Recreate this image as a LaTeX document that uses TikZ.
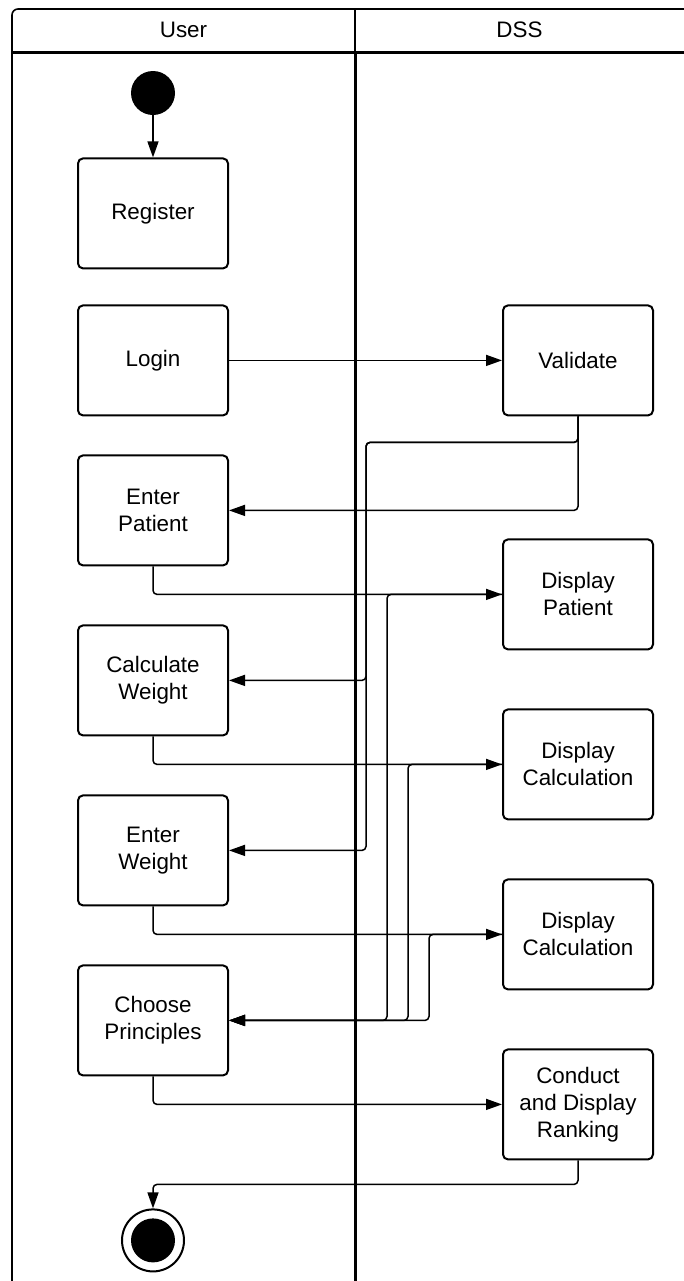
\documentclass[tikz,border=0pt]{standalone}
\usepackage{fontspec}
\setmainfont{Liberation Sans}
\usetikzlibrary{positioning}
\usetikzlibrary{arrows.meta}

\begin{document}
\begin{tikzpicture}[
x=0.5pt, y=-0.5pt,
font=\fontsize{11.2}{13.5}\selectfont,
actnode/.style={rectangle, rounded corners=2.5pt, draw=black, fill=white, line width=1pt, minimum width=75pt, minimum height=55pt, align=center},
startnode/.style={circle, fill=black, minimum size=22pt, inner sep=0pt},
endnode/.style={circle, draw=black, fill=white, line width=1pt, minimum size=31pt, inner sep=0pt, path picture={\fill[black] (path picture bounding box.center) circle (11pt);}},
conn/.style={line width=0.75pt, rounded corners=2pt, -{Triangle[length=8pt,width=5.5pt]}},
lane/.style={line width=1.5pt},
]
\useasboundingbox (0,0) rectangle (684,1281);

% Swimlane frame
\draw[line width=0.8pt, rounded corners=3pt] (684,9) -- (12,9) -- (12,52);
\draw[line width=1.3pt] (12,52) -- (12,1281);
\draw[lane] (12,52) -- (684,52);
\draw[line width=0.8pt] (355,9) -- (355,52);
\draw[lane] (355,52) -- (355,1281);
\node (userlane) at (183.5,30) {User};
\node (dsslane)  at (519.5,30) {DSS};

% User nodes
\node[startnode] (start)       at (153,93)                       {};
\node[actnode]   (register)    [below=21pt of start]             {Register};
\node[actnode]   (login)       [below=17.5pt of register]        {Login};
\node[actnode]   (enterpatient)[below=19pt of login]             {Enter\\Patient};
\node[actnode]   (calcweight)  [below=29pt of enterpatient]      {Calculate\\Weight};
\node[actnode]   (enterweight) [below=29pt of calcweight]        {Enter\\Weight};
\node[actnode]   (choose)      [below=29pt of enterweight]       {Choose\\Principles};
\node[endnode]   (finish)      [below=66pt of choose]            {};

% DSS nodes
\node[actnode]   (validate)    [right=136.5pt of login]          {Validate};
\node[actnode]   (disppatient) [below=61pt of validate]          {Display\\Patient};
\node[actnode]   (dispcalca)   [below=29pt of disppatient]       {Display\\Calculation};
\node[actnode]   (dispcalcb)   [below=29pt of dispcalca]         {Display\\Calculation};
\node[actnode]   (ranking)     [below=29pt of dispcalcb]         {Conduct\\and Display\\Ranking};

\draw[conn] (start) -- (register);
\draw[conn] (login) -- (validate);
\draw[conn] (validate.south) |- (enterpatient.east);
\draw[conn] (validate.south) -- ++(0,26) -- ++(-212,0) |- (calcweight.east);
\draw[conn] (validate.south) -- ++(0,26) -- ++(-212,0) |- (enterweight.east);
\draw[conn] (enterpatient.south) |- (disppatient.west);
\draw[conn] (calcweight.south) |- (dispcalca.west);
\draw[conn] (enterweight.south) |- (dispcalcb.west);
\draw[conn] (disppatient.west) -- ++(-115,0) |- (choose.east);
\draw[conn] (dispcalca.west) -- ++(-94,0) |- (choose.east);
\draw[conn] (dispcalcb.west) -- ++(-73,0) |- (choose.east);
\draw[conn] (choose.south) |- (ranking.west);
\draw[conn] (ranking.south) -- ++(0,24) -| (finish.north);
\end{tikzpicture}
\end{document}
